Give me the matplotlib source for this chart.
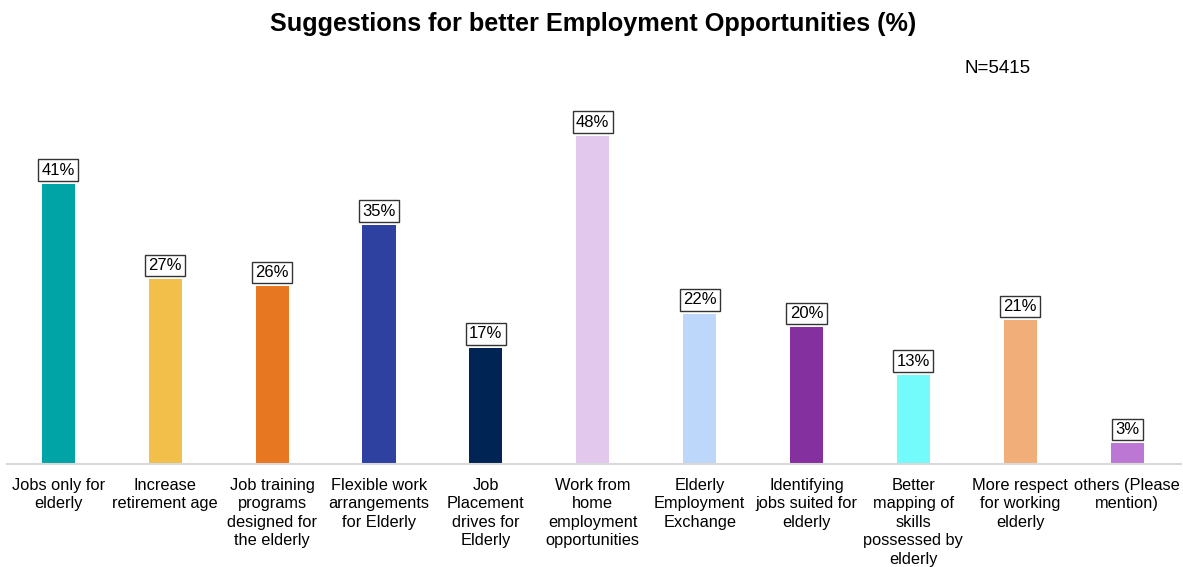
import matplotlib.pyplot as plt

plt.rcParams['font.family'] = ['Liberation Sans', 'DejaVu Sans']

categories = [
    "Jobs only for\nelderly",
    "Increase\nretirement age",
    "Job training\nprograms\ndesigned for\nthe elderly",
    "Flexible work\narrangements\nfor Elderly",
    "Job\nPlacement\ndrives for\nElderly",
    "Work from\nhome\nemployment\nopportunities",
    "Elderly\nEmployment\nExchange",
    "Identifying\njobs suited for\nelderly",
    "Better\nmapping of\nskills\npossessed by\nelderly",
    "More respect\nfor working\nelderly",
    "others (Please\nmention)",
]
values = [41, 27, 26, 35, 17, 48, 22, 20, 13, 21, 3]
colors = ["#00A3A6", "#F1BF4A", "#E87722", "#2E41A0", "#002554", "#E3C8EE",
          "#BDD7FA", "#84309E", "#73FAFA", "#F2AE78", "#BB77D3"]

fig = plt.figure(figsize=(11.83, 5.67), dpi=100)
ax = fig.add_axes([0.006, 0.182, 0.992, 0.642])

x = range(len(values))
bars = ax.bar(x, values, width=0.31, color=colors)

for b, v in zip(bars, values):
    ax.annotate(f"{v}%", (b.get_x() + b.get_width() / 2, v),
                xytext=(0, 4.5), textcoords="offset points",
                ha="center", va="bottom", fontsize=12,
                bbox=dict(boxstyle="square,pad=0.2", fc="white", ec="#333333", lw=1))

ax.set_xlim(-0.48, 10.5)
ax.set_ylim(0, 53.3)
ax.set_xticks(list(x))
ax.set_xticklabels(categories, fontsize=11.8, linespacing=1.3)
ax.tick_params(axis="x", length=0, pad=10)
ax.set_yticks([])
for s in ["top", "right", "left"]:
    ax.spines[s].set_visible(False)
ax.spines["bottom"].set_color("#D9D9D9")
ax.spines["bottom"].set_linewidth(1.5)

fig.text(0.501, 0.958, "Suggestions for better Employment Opportunities (%)",
         ha="center", va="center", fontsize=18.2, fontweight="bold")
fig.text(0.815, 0.880, "N=5415", ha="left", va="center", fontsize=13.5)

fig.savefig("out.png", dpi=100)
